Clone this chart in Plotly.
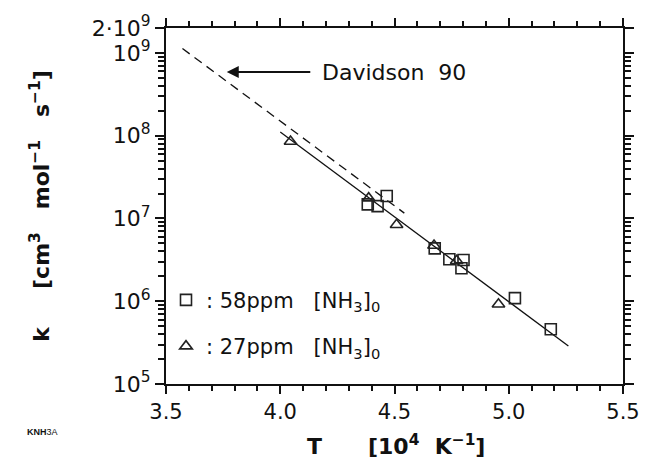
import plotly.graph_objects as go

# Rate coefficients, 58 ppm NH3 initial mixture
sq_x = [4.383, 4.426, 4.466, 4.676, 4.740, 4.802, 4.793, 5.027, 5.184]
sq_k = [1.48e7, 1.41e7, 1.87e7, 4.35e6, 3.21e6, 3.15e6, 2.50e6, 1.09e6, 4.58e5]

# Rate coefficients, 27 ppm NH3 initial mixture
tr_x = [4.045, 4.387, 4.509, 4.673, 4.772, 4.955]
tr_k = [8.5e7, 1.76e7, 8.4e6, 4.72e6, 3.08e6, 9.2e5]

# Arrhenius fit through both data sets
fit_x = [4.0, 5.261]
fit_k = [1.11e8, 2.88e5]

# Davidson 90 expression
dav_x = [3.572, 4.543]
dav_k = [1.13e9, 1.16e7]

y_tickvals = [1e5, 1e6, 1e7, 1e8, 1e9, 2e9]
y_ticktext = ["10<sup>5</sup>", "10<sup>6</sup>", "10<sup>7</sup>",
              "10<sup>8</sup>", "10<sup>9</sup>", "2·10<sup>9</sup>"]
y_minor = [m * 10 ** e for e in range(5, 9) for m in range(2, 10)]

ink = "#111111"
x_tick_font = dict(family="DejaVu Sans", size=21, color=ink)
y_tick_font = dict(family="DejaVu Sans", size=22, color=ink)
title_font = dict(family="DejaVu Sans", size=22, color=ink)
NB = "\u00a0"


def gap(n):
    return NB * n


fig = go.Figure()

fig.add_trace(go.Scatter(
    x=dav_x, y=dav_k, mode="lines", showlegend=False,
    line=dict(color=ink, width=1.3, dash="9px,6px")))
fig.add_trace(go.Scatter(
    x=fit_x, y=fit_k, mode="lines", showlegend=False,
    line=dict(color=ink, width=1.3)))
fig.add_trace(go.Scatter(
    x=sq_x, y=sq_k, mode="markers", legendgroup="a",
    name=f":{NB}58ppm{gap(3)}[NH<sub>3</sub>]<sub>0</sub>",
    marker=dict(symbol="square-open", size=11, color="#222222",
                line=dict(width=1.6, color="#222222"))))
fig.add_trace(go.Scatter(
    x=tr_x, y=tr_k, mode="markers", legendgroup="b",
    name=f":{NB}27ppm{gap(3)}[NH<sub>3</sub>]<sub>0</sub>",
    marker=dict(symbol="triangle-up-open", size=11, color="#222222",
                line=dict(width=1.6, color="#222222"))))

# Arrow pointing at the dashed literature line
fig.add_annotation(x=3.766, y=8.768, ax=4.138, ay=8.768,
                   xref="x", yref="y", axref="x", ayref="y",
                   text="", showarrow=True, arrowhead=2, arrowsize=1.2,
                   arrowwidth=2, arrowcolor=ink, standoff=0)
fig.add_annotation(x=4.172, y=8.768, xref="x", yref="y",
                   text=f"Davidson{gap(2)}90", showarrow=False,
                   xanchor="left", yanchor="middle",
                   font=dict(family="DejaVu Sans", size=22, color=ink))

# Axis titles
fig.add_annotation(x=0.503, y=-0.172, xref="paper", yref="paper",
                   text=f"<b>T{gap(6)}[10<sup>4</sup>{gap(2)}K<sup>−1</sup>]</b>",
                   showarrow=False, xanchor="center", yanchor="middle",
                   font=title_font)
fig.add_annotation(x=-0.276, y=0.50, xref="paper", yref="paper",
                   text=(f"<b>k{gap(5)}[cm<sup>3</sup>{gap(3)}mol<sup>−1</sup>"
                         f"{gap(3)}s<sup>−1</sup>]</b>"),
                   showarrow=False, textangle=-90,
                   xanchor="center", yanchor="middle", font=title_font)
fig.add_annotation(x=-0.308, y=-0.134, xref="paper", yref="paper",
                   text="<b>KNH</b>3A", showarrow=False,
                   xanchor="left", yanchor="middle",
                   font=dict(family="Liberation Sans", size=9, color=ink))

fig.update_xaxes(
    range=[3.5, 5.5], tick0=3.5, dtick=0.5, tickformat=".1f",
    showline=True, linewidth=2, linecolor=ink, mirror="ticks",
    ticks="outside", ticklen=8, tickwidth=2, tickcolor=ink,
    tickfont=x_tick_font, showgrid=False, zeroline=False,
    minor=dict(dtick=0.1, ticks="outside", ticklen=5, tickwidth=1.5,
               tickcolor=ink, showgrid=False))
fig.update_yaxes(
    type="log", range=[5, 9.30103],
    tickvals=y_tickvals, ticktext=y_ticktext,
    showline=True, linewidth=2, linecolor=ink, mirror="ticks",
    ticks="outside", ticklen=9, tickwidth=2, tickcolor=ink,
    tickfont=y_tick_font, showgrid=False, zeroline=False,
    minor=dict(tickvals=y_minor, ticks="outside", ticklen=6, tickwidth=1.5,
               tickcolor=ink, showgrid=False))

fig.update_layout(
    width=652, height=462,
    margin=dict(l=166, r=19, t=27, b=78),
    paper_bgcolor="white", plot_bgcolor="white",
    legend=dict(x=0.0, y=0.293, xanchor="left", yanchor="top",
                bgcolor="rgba(0,0,0,0)", tracegroupgap=16,
                font=dict(family="DejaVu Sans", size=21, color=ink)),
)

fig.write_html("out.html")
